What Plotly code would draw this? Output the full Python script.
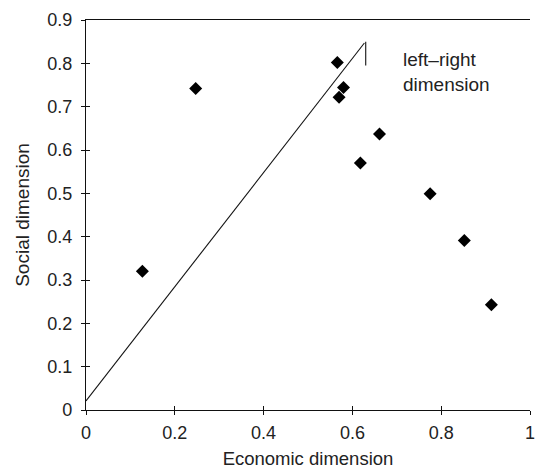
import plotly.graph_objects as go

economic = [0.127, 0.247, 0.566, 0.580, 0.570, 0.661, 0.618, 0.775, 0.852, 0.913]
social = [0.320, 0.742, 0.802, 0.744, 0.722, 0.637, 0.570, 0.499, 0.391, 0.243]

line_x = [0.0, 0.627]
line_y = [0.021, 0.847]
tick_x = [0.630, 0.630]
tick_y = [0.850, 0.795]

x_ticks = [0, 0.2, 0.4, 0.6, 0.8, 1]
x_labels = ["0", "0.2", "0.4", "0.6", "0.8", "1"]
y_ticks = [0, 0.1, 0.2, 0.3, 0.4, 0.5, 0.6, 0.7, 0.8, 0.9]
y_labels = ["0", "0.1", "0.2", "0.3", "0.4", "0.5", "0.6", "0.7", "0.8", "0.9"]

annotation_text = "left\u2013right<br>dimension"

font_family = "Liberation Sans, Arial, Helvetica, sans-serif"
ink = "#111"
text_color = "#222"

fig = go.Figure()
fig.add_trace(go.Scatter(x=line_x, y=line_y, mode="lines",
                         line=dict(color=ink, width=1.1), showlegend=False))
fig.add_trace(go.Scatter(x=tick_x, y=tick_y, mode="lines",
                         line=dict(color=ink, width=1.1), showlegend=False))
fig.add_trace(go.Scatter(x=economic, y=social, mode="markers",
                         marker=dict(symbol="diamond", size=10, color="#000"),
                         showlegend=False))
# invisible trace so the overlay axes (inner half of crossing ticks) are drawn
fig.add_trace(go.Scatter(x=[None], y=[None], xaxis="x2", yaxis="y2",
                         mode="markers", showlegend=False, hoverinfo="skip"))

fig.add_annotation(x=0.71, y=0.838, xref="x", yref="y", text=annotation_text,
                   showarrow=False, xanchor="left", yanchor="top", align="left",
                   font=dict(size=19, color=text_color, family=font_family))

fig.update_layout(
    width=536, height=469,
    margin=dict(l=86, r=6, t=20, b=59),
    paper_bgcolor="white", plot_bgcolor="white",
    font=dict(family=font_family, color=text_color, size=18),
    xaxis=dict(range=[0, 1], tickvals=x_ticks, ticktext=x_labels,
               showgrid=False, zeroline=False, showline=True, linecolor=ink,
               linewidth=1.2, mirror=True, ticks="outside", ticklen=4,
               tickcolor=ink, automargin=False, tickfont=dict(size=18),
               ticklabelstandoff=2, ticklabeloverflow="allow",
               title=dict(text="Economic dimension", font=dict(size=18.5), standoff=10)),
    yaxis=dict(range=[0, 0.9], tickvals=y_ticks, ticktext=y_labels,
               showgrid=False, zeroline=False, showline=True, linecolor=ink,
               linewidth=1.2, ticks="outside", ticklen=4, tickcolor=ink,
               automargin=False, tickfont=dict(size=18), ticklabelstandoff=5,
               title=dict(text="Social dimension", font=dict(size=19), standoff=12)),
    xaxis2=dict(range=[0, 1], tickvals=x_ticks, overlaying="x", showticklabels=False,
                showgrid=False, zeroline=False, showline=False, ticks="inside",
                ticklen=4, tickcolor=ink, automargin=False),
    yaxis2=dict(range=[0, 0.9], tickvals=y_ticks, overlaying="y", showticklabels=False,
                showgrid=False, zeroline=False, showline=False, ticks="inside",
                ticklen=4, tickcolor=ink, automargin=False),
)

fig.write_html("out.html")
